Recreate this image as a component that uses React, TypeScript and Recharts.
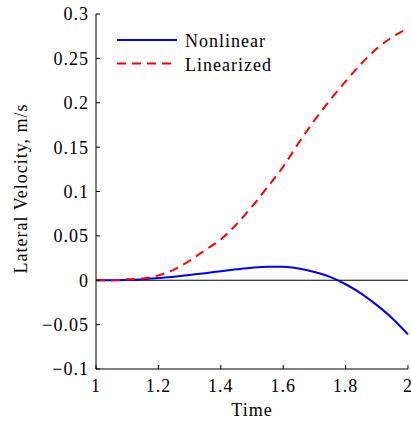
import React from 'react';
import { LineChart, Line, XAxis, YAxis, ReferenceLine } from 'recharts';

// sample times and the two lateral velocity traces (m/s)
const time = [1, 1.05, 1.1, 1.15, 1.2, 1.25, 1.3, 1.35, 1.4, 1.45, 1.5, 1.55, 1.6, 1.65, 1.7, 1.75, 1.8, 1.85, 1.9, 1.95, 2];
const nonlinear = [0, 0, 0.0005, 0.0012, 0.0025, 0.004, 0.006, 0.008, 0.0102, 0.0123, 0.0142, 0.0153, 0.0152, 0.0132, 0.0093, 0.0038, -0.0045, -0.015, -0.028, -0.043, -0.061];
const linearized = [0, 0, 0.001, 0.002, 0.0055, 0.012, 0.022, 0.034, 0.046, 0.063, 0.083, 0.105, 0.128, 0.155, 0.18, 0.203, 0.224, 0.244, 0.261, 0.274, 0.284];

const xTicks = [1, 1.2, 1.4, 1.6, 1.8, 2];
const yTicks = [-0.1, -0.05, 0, 0.05, 0.1, 0.15, 0.2, 0.25, 0.3];

const seriesNames = ['Nonlinear', 'Linearized'];
const seriesColors = ['#0000ff', '#ff0000'];

const data = time.map((t, i) => ({ t, nonlinear: nonlinear[i], linearized: linearized[i] }));

const FONT = 'Liberation Serif';
const FS = 18;
const LS = 1;

const fmt = (v: number) => (v < 0 ? '\u2212' + String(Math.abs(v)) : String(v));

const T = (p: any) => (
  <text fontFamily={FONT} fontSize={FS} letterSpacing={LS} fill="#000" {...p} />
);

const YTick = ({ x, y, payload }: any) => (
  <T x={x} y={y} dy="0.355em" textAnchor="end">{fmt(payload.value)}</T>
);

const XTick = ({ x, y, payload }: any) => (
  <T x={x} y={y} dy="0.71em" textAnchor="middle">{String(payload.value)}</T>
);

const LegendBox = () => (
  <svg width={200} height={60} style={{ position: 'absolute', left: 110, top: 25 }}>
    {seriesNames.map((name, i) => (
      <g key={name}>
        <line
          x1={7}
          x2={67}
          y1={15 + i * 23.5}
          y2={15 + i * 23.5}
          stroke={seriesColors[i]}
          strokeWidth={2}
          strokeDasharray={i === 1 ? '9 6' : undefined}
        />
        <T x={75} y={22 + i * 23.5}>{name}</T>
      </g>
    ))}
  </svg>
);

export default function App() {
  return (
    <div style={{ position: 'absolute', left: 0, top: 0, width: 411, height: 421, background: '#fff' }}>
      <LineChart width={411} height={421} data={data} margin={{ top: 14, right: 3, bottom: 0, left: 0 }}>
        <XAxis
          dataKey="t"
          type="number"
          domain={[1, 2]}
          ticks={xTicks}
          height={52}
          stroke="#000"
          tickSize={-4}
          tickMargin={14}
          tick={<XTick />}
          interval={0}
          label={{
            content: ({ viewBox }: any) => (
              <T x={viewBox.x + viewBox.width / 2} y={viewBox.y + 47} textAnchor="middle">Time</T>
            ),
          }}
        />
        <YAxis
          type="number"
          domain={[-0.1, 0.3]}
          ticks={yTicks}
          width={96}
          stroke="#000"
          tickSize={-4}
          tickMargin={11}
          tick={<YTick />}
          interval={0}
          allowDataOverflow
          label={{
            content: ({ viewBox }: any) => {
              const x = viewBox.x + 27;
              const y = viewBox.y + viewBox.height / 2 - 3;
              return (
                <T x={x} y={y} textAnchor="middle" transform={`rotate(-90, ${x}, ${y})`}>
                  Lateral Velocity, m/s
                </T>
              );
            },
          }}
        />
        <ReferenceLine y={0} stroke="#000" strokeWidth={1} />
        <Line type="monotone" dataKey="nonlinear" stroke={seriesColors[0]} strokeWidth={2} dot={false} isAnimationActive={false} />
        <Line type="monotone" dataKey="linearized" stroke={seriesColors[1]} strokeWidth={2} strokeDasharray="9 6" dot={false} isAnimationActive={false} />
      </LineChart>
      <LegendBox />
    </div>
  );
}
